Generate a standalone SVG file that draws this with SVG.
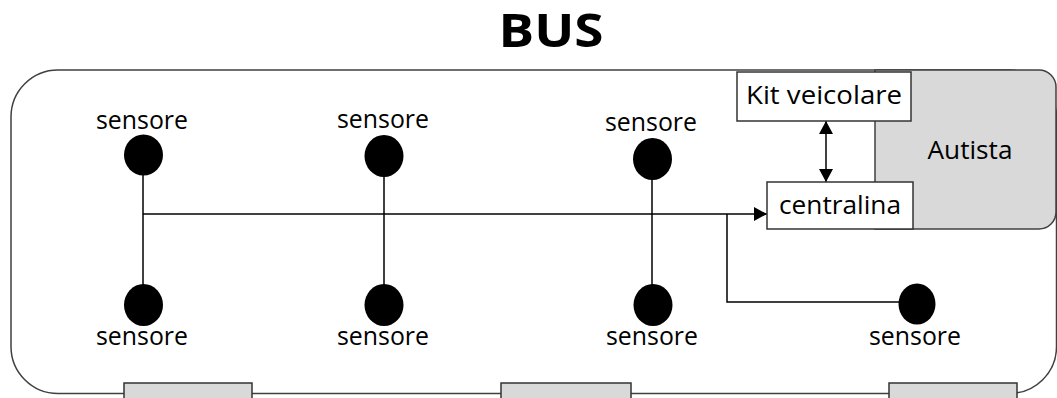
<svg xmlns="http://www.w3.org/2000/svg" width="1057" height="398" viewBox="0 0 1057 398">
<style>
.t{font-family:"Open Sans","Liberation Sans",sans-serif;font-size:26px;fill:#000}
.ln{stroke:#000;stroke-width:1.5;fill:none}
.sen{fill:#000}
.box{fill:#fff;stroke:#333;stroke-width:1.5}
.wheel{fill:#d9d9d9;stroke:#333;stroke-width:1.5}
</style>
<defs>
<marker id="ah" viewBox="0 0 13 14" refX="13" refY="7" markerWidth="13" markerHeight="14" markerUnits="userSpaceOnUse" orient="auto-start-reverse">
<path d="M0,0 L13,7 L0,14 Z" fill="#000"/>
</marker>
</defs>
<text x="551" y="47" font-family="Open Sans, Liberation Sans, sans-serif" font-weight="bold" font-size="46" text-anchor="middle" textLength="105" lengthAdjust="spacingAndGlyphs">BUS</text>
<g id="bus">
<rect x="11" y="70" width="1045.5" height="323.5" rx="47" ry="47" fill="#fff" stroke="#404040" stroke-width="1.5"/>
</g>
<g id="wheels">
<rect class="wheel" x="124" y="383" width="128" height="20"/>
<rect class="wheel" x="501" y="383" width="130" height="20"/>
<rect class="wheel" x="889" y="383" width="128" height="20"/>
</g>
<g id="autista">
<path d="M875,70 H1039 A17,17 0 0 1 1056,87 V212 A17,17 0 0 1 1039,229 H875 Z" fill="#d9d9d9" stroke="#404040" stroke-width="1.5"/>
<text class="t" x="970" y="159" text-anchor="middle" textLength="85" lengthAdjust="spacingAndGlyphs">Autista</text>
</g>
<g id="connectors">
<path class="ln" d="M143,214 H767" marker-end="url(#ah)"/>
<path class="ln" d="M143,175 V285"/>
<path class="ln" d="M384,176 V285"/>
<path class="ln" d="M652,179 V285"/>
<path class="ln" d="M727,214 V302 H899"/>
<path class="ln" d="M826,121 V182" marker-start="url(#ah)" marker-end="url(#ah)"/>
</g>
<g id="kit">
<rect class="box" x="737" y="72" width="174" height="49"/>
<text class="t" x="824" y="104" text-anchor="middle" textLength="156" lengthAdjust="spacingAndGlyphs">Kit veicolare</text>
</g>
<g id="centralina">
<rect class="box" x="767" y="182" width="146" height="47"/>
<text class="t" x="840" y="214" text-anchor="middle" textLength="122" lengthAdjust="spacingAndGlyphs">centralina</text>
</g>
<g id="sensore1">
<ellipse class="sen" cx="143.5" cy="155" rx="19.5" ry="20.5"/>
<text class="t" x="142" y="129" text-anchor="middle" textLength="92" lengthAdjust="spacingAndGlyphs">sensore</text>
</g>
<g id="sensore2">
<ellipse class="sen" cx="384" cy="156" rx="19.5" ry="21"/>
<text class="t" x="383" y="128" text-anchor="middle" textLength="92" lengthAdjust="spacingAndGlyphs">sensore</text>
</g>
<g id="sensore3">
<ellipse class="sen" cx="652.5" cy="159" rx="19.5" ry="21"/>
<text class="t" x="651" y="131" text-anchor="middle" textLength="92" lengthAdjust="spacingAndGlyphs">sensore</text>
</g>
<g id="sensore4">
<ellipse class="sen" cx="143.5" cy="305" rx="19.5" ry="21"/>
<text class="t" x="142" y="345" text-anchor="middle" textLength="92" lengthAdjust="spacingAndGlyphs">sensore</text>
</g>
<g id="sensore5">
<ellipse class="sen" cx="384" cy="305" rx="19.5" ry="21"/>
<text class="t" x="383" y="345" text-anchor="middle" textLength="92" lengthAdjust="spacingAndGlyphs">sensore</text>
</g>
<g id="sensore6">
<ellipse class="sen" cx="653" cy="305" rx="19.5" ry="21"/>
<text class="t" x="652" y="345" text-anchor="middle" textLength="92" lengthAdjust="spacingAndGlyphs">sensore</text>
</g>
<g id="sensore7">
<ellipse class="sen" cx="917" cy="304" rx="18.5" ry="20.5"/>
<text class="t" x="915" y="345" text-anchor="middle" textLength="92" lengthAdjust="spacingAndGlyphs">sensore</text>
</g>
</svg>
